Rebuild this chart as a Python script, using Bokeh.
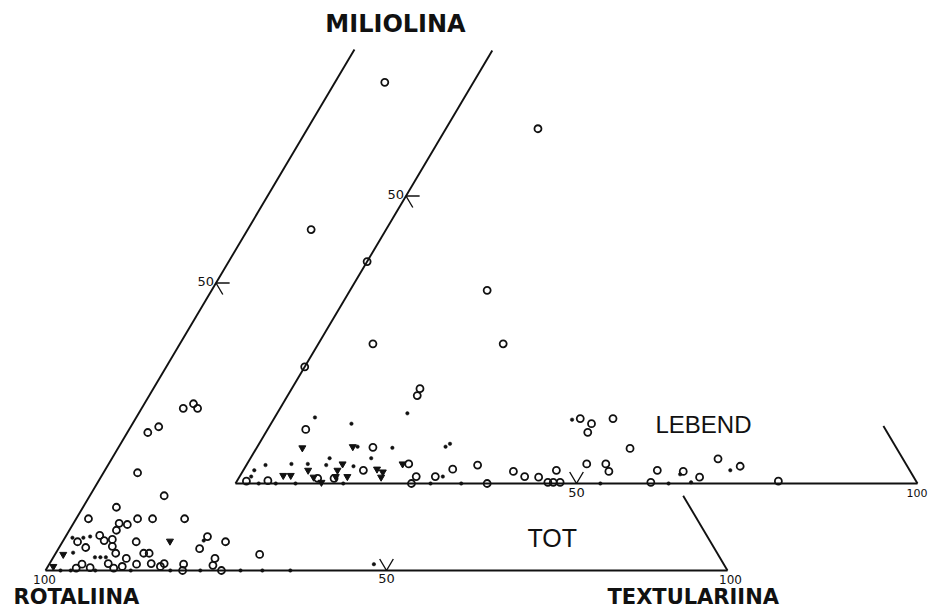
from bokeh.plotting import figure
from bokeh.models import Range1d
from bokeh.embed import file_html
from bokeh.resources import INLINE
from bokeh.core.properties import value

# ---------------- data (Textulariina %, Miliolina %) ----------------
# TOT (total assemblage)
tot_circle_T = [7.3, 9.3, 6.1, 7.2, 8.2, 3.0, 4.1, 5.0, 10.9, 4.9, 1.8, 9.0, 11.2, 15.9, 6.7, 8.0, 6.9,
                4.9, 7.1, 6.0, 10.8, 2.2, 3.9, 7.7, 8.8, 12.9, 13.7, 10.8, 20.8, 20.7, 23.9, 23.8, 30.0,
                16.8, 16.5, 19.7, 20.1, 24.1, 25.8, 12.8, 14.9, 4.8, 8.6, 9.8, 10.9, 4.3, 6.3]
tot_circle_M = [84.9, 59.3, 28.2, 29.0, 28.2, 24.0, 25.0, 17.0, 13.0, 11.0, 9.0, 9.0, 9.0, 9.0, 8.2, 8.0, 7.0,
                6.1, 5.4, 5.2, 5.0, 5.0, 4.0, 4.2, 3.0, 3.0, 3.0, 2.1, 5.9, 3.8, 5.0, 2.1, 2.8,
                1.2, 0.7, 1.1, 0.0, 0.9, 0.0, 1.1, 1.2, 1.1, 1.2, 0.4, 0.7, 0.4, 0.5]
tot_tri_T = [15.7, 1.2, 0.8]
tot_tri_M = [5.1, 2.8, 0.7]
tot_dot_T = [1.1, 2.7, 3.6, 2.5, 6.1, 6.9, 7.7, 20.6, 47.6, 2.2, 3.7, 7.3, 12.5, 18.3, 22.7, 28.6, 31.8, 35.9]
tot_dot_M = [5.7, 5.7, 5.9, 3.1, 2.3, 2.3, 2.3, 5.2, 1.1, 0.0, 0.0, 0.0, 0.0, 0.0, 0.0, 0.0, 0.0, 0.0]

# LEBEND (living assemblage)
leb_circle_T = [0.0, 0.0, 8.0, 27.1, 20.1, 13.5, 18.8, 19.0, 5.6, 17.0, 23.7, 17.6, 25.9, 25.8, 28.7, 30.6,
                33.9, 36.9, 39.7, 41.8, 43.9, 45.9, 45.7, 46.5, 47.5, 44.9, 47.0, 47.2, 49.7, 49.8, 52.6,
                53.7, 54.8, 60.8, 60.7, 64.6, 67.5, 68.6, 72.5, 79.4, 1.4, 4.5, 11.6, 14.0]
leb_circle_M = [38.6, 20.3, 24.3, 24.3, 33.6, 61.7, 16.5, 15.3, 9.4, 6.3, 3.4, 2.3, 1.2, 0.0, 1.2, 2.5,
                3.2, 0.0, 2.1, 1.2, 1.1, 2.3, 0.2, 0.2, 0.2, 11.3, 10.4, 8.9, 11.3, 3.4, 3.4,
                2.1, 6.1, 0.2, 2.3, 2.1, 1.1, 4.3, 3.0, 0.4, 0.4, 0.5, 0.9, 0.9]
leb_tri_T = [6.7, 14.0, 22.8, 14.0, 9.5, 19.5, 20.6, 20.8, 6.3, 7.4, 13.8, 14.1, 15.8, 10.9, 12.5]
leb_tri_M = [6.2, 6.4, 3.4, 3.4, 2.3, 2.5, 2.0, 1.1, 1.4, 1.4, 2.3, 1.2, 1.2, 1.1, 0.2]
leb_dot_T = [5.9, 11.8, 19.1, 14.7, 19.9, 27.6, 28.0, 11.6, 17.7, 2.8, 6.5, 8.9, 11.7, 15.8, 1.6, 1.7,
             29.8, 33.1, 43.8, 64.4, 66.7, 71.4, 3.4, 5.9, 8.8, 15.8, 28.6, 53.5, 63.5]
leb_dot_M = [11.5, 10.4, 12.2, 6.4, 6.2, 6.4, 6.9, 4.4, 4.4, 3.2, 3.4, 3.4, 3.2, 3.0, 2.3, 1.2,
             1.2, 0.0, 11.1, 1.6, 0.2, 2.3, 0.0, 0.0, 0.0, 0.0, 0.0, 0.0, 0.0]

# extents of the drawn triangle edges (Miliolina % where the edge stops)
tot_left_top_M = 90.6
tot_right_top_M = 13.0
leb_left_top_M = 75.3
leb_right_top_M = 10.0

# ---------------- layout ----------------
W, H = 929, 609
SX, SY = 6.82, 5.75          # px per percent unit
X0, Y0 = 45, 570             # picture position of the TOT 100%-Rotaliina corner
LEB_DX = (235 - 45) / SX     # LEBEND diagram shift
LEB_DY = (570 - 483) / SY
BASE_SHIFT = 0.37            # empirical text baseline correction (in em)


def tern(T, M, ox=0.0, oy=0.0):
    xs = [t + m / 2.0 + ox for t, m in zip(T, M)]
    ys = [m + oy for m in M]
    return xs, ys


def px(xp, yp):
    return (xp - X0) / SX, (Y0 - yp) / SY


x_start = (0 - X0) / SX
y_end = (Y0 - 0) / SY
p = figure(width=W, height=H, output_backend="svg", toolbar_location=None,
           x_range=Range1d(x_start, x_start + W / SX),
           y_range=Range1d(y_end - H / SY, y_end),
           min_border=0, outline_line_color=None)
p.xaxis.visible = False
p.yaxis.visible = False
p.grid.visible = False
p.background_fill_color = "white"
p.border_fill_color = "white"

LC = "#111111"
LW = 1.9

for ox, oy, ltop, rtop in [(0.0, 0.0, tot_left_top_M, tot_right_top_M),
                           (LEB_DX, LEB_DY, leb_left_top_M, leb_right_top_M)]:
    xs, ys = tern([0, 100], [0, 0], ox, oy)
    p.line(xs, ys, line_color=LC, line_width=LW)
    xs, ys = tern([0, 0], [0, ltop], ox, oy)
    p.line(xs, ys, line_color=LC, line_width=LW)
    xs, ys = tern([100, 100 - rtop], [0, rtop], ox, oy)
    p.line(xs, ys, line_color=LC, line_width=LW)
    # 50 % tick on base (V)
    xs, ys = tern([48, 50, 50], [2, 0, 2], ox, oy)
    p.line(xs, ys, line_color=LC, line_width=1.4)
    # 50 % tick on left edge (<)
    xs, ys = tern([2, 0, 2], [50, 50, 48], ox, oy)
    p.line(xs, ys, line_color=LC, line_width=1.4)

# points
for T, M, ox, oy in [(tot_circle_T, tot_circle_M, 0, 0), (leb_circle_T, leb_circle_M, LEB_DX, LEB_DY)]:
    xs, ys = tern(T, M, ox, oy)
    p.scatter(xs, ys, marker="circle", size=7, fill_color=None, line_color=LC, line_width=1.8)
for T, M, ox, oy in [(tot_tri_T, tot_tri_M, 0, 0), (leb_tri_T, leb_tri_M, LEB_DX, LEB_DY)]:
    xs, ys = tern(T, M, ox, oy)
    p.scatter(xs, ys, marker="inverted_triangle", size=7, fill_color=LC, line_color=LC, line_width=1)
for T, M, ox, oy in [(tot_dot_T, tot_dot_M, 0, 0), (leb_dot_T, leb_dot_M, LEB_DX, LEB_DY)]:
    xs, ys = tern(T, M, ox, oy)
    p.scatter(xs, ys, marker="circle", size=3.5, fill_color=LC, line_color=LC, line_width=0.5)


def label(xp, yp, txt, size, align="left", font="DejaVu Sans", style="bold"):
    x, y = px(xp, yp - BASE_SHIFT * size)
    p.text([x], [y], text=[txt], text_font=value(font), text_font_size=f"{size}px",
           text_font_style=style, text_align=align, text_baseline="alphabetic", text_color=LC)


label(395, 32, "MILIOLINA", 24, "center")
label(13, 604, "ROTALIINA", 21, "left")
label(607, 604, "TEXTULARIINA", 21, "left")
label(527, 547, "TOT", 25, "left", "Liberation Sans", "normal")
label(655, 433, "LEBEND", 24, "left", "Liberation Sans", "normal")


# numeric tick labels placed relative to their ternary points
def num(T, M, ox, oy, dxp, dyp, txt, align, size=13):
    xs, ys = tern([T], [M], ox, oy)
    x = xs[0] + dxp / SX
    y = ys[0] - (dyp - BASE_SHIFT * size) / SY
    p.text([x], [y], text=[txt], text_font=value("DejaVu Sans"), text_font_size=f"{size}px",
           text_align=align, text_baseline="alphabetic", text_color=LC)


num(0, 0, 0, 0, -1, 13, "100", "center", 12)
num(50, 0, 0, 0, 0, 13, "50", "center")
num(100, 0, 0, 0, 3, 13, "100", "center", 12)
num(0, 50, 0, 0, -2, 3, "50", "right")
num(50, 0, LEB_DX, LEB_DY, 0, 14, "50", "center")
num(100, 0, LEB_DX, LEB_DY, 10, 14, "100", "right", 11)
num(0, 50, LEB_DX, LEB_DY, -2, 3, "50", "right")

open("out.html", "w").write(file_html(p, INLINE))
